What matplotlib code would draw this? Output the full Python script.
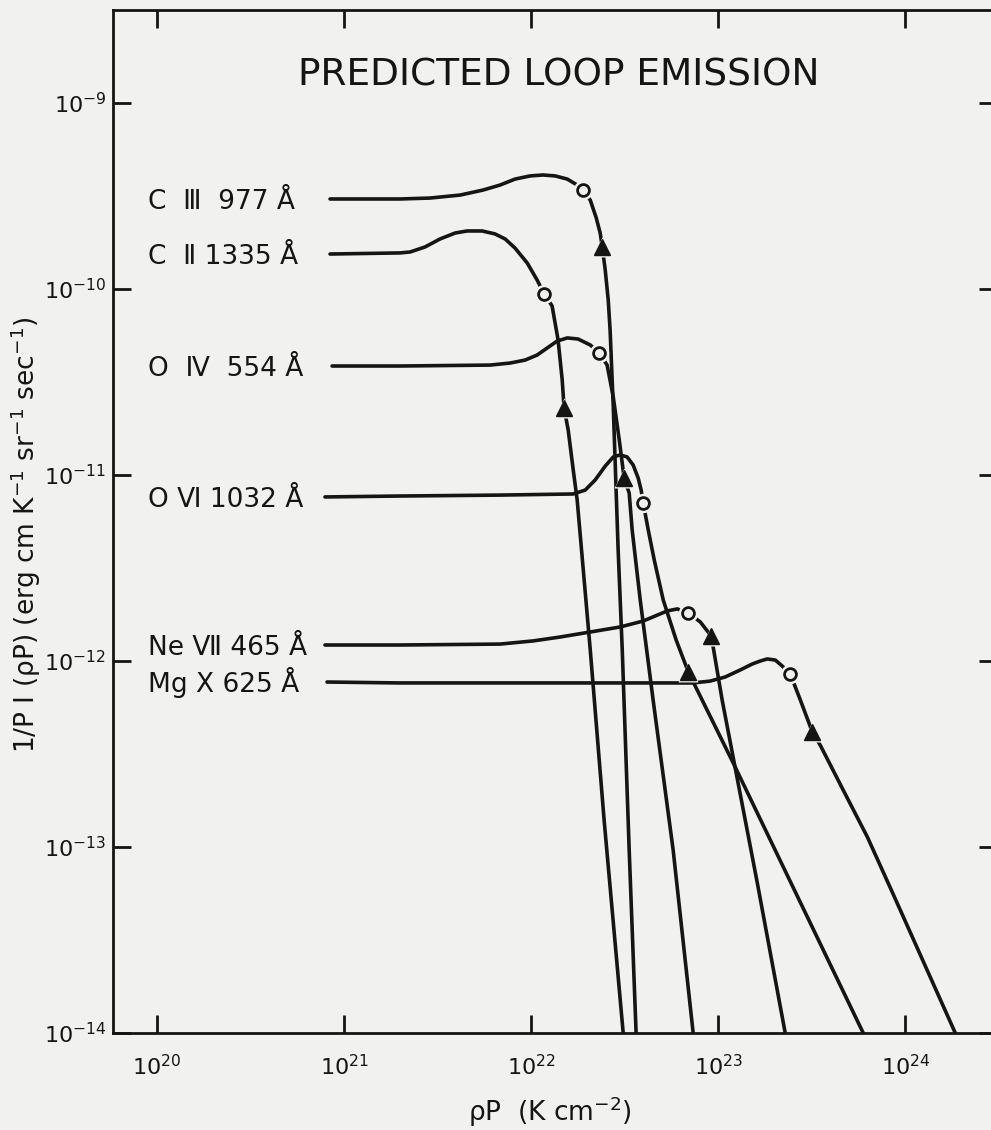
import numpy as np
import matplotlib
matplotlib.use('Agg')
import matplotlib.pyplot as plt

# values, stored as log10(rho P) and log10(I/P)
c3_x = [20.925, 21.30, 21.46, 21.62, 21.743, 21.834, 21.914, 21.995, 22.064, 22.128, 22.193, 22.246, 22.278,
        22.316, 22.348, 22.369, 22.380, 22.396, 22.412, 22.422, 22.439, 22.465, 22.487, 22.524, 22.561]
c3_y = [-9.516, -9.516, -9.511, -9.495, -9.468, -9.441, -9.409, -9.392, -9.387, -9.392, -9.409, -9.441, -9.468,
        -9.522, -9.618, -9.699, -9.774, -9.898, -10.059, -10.220, -10.634, -11.403, -11.941, -13.016, -14.0]

c2_x = [20.925, 21.30, 21.353, 21.433, 21.513, 21.594, 21.658, 21.738, 21.807, 21.861, 21.914, 21.979, 22.032,
        22.070, 22.112, 22.144, 22.166, 22.176, 22.198, 22.225, 22.246, 22.316, 22.390, 22.492]
c2_y = [-9.812, -9.806, -9.801, -9.774, -9.731, -9.699, -9.688, -9.688, -9.704, -9.731, -9.780, -9.860, -9.952,
        -10.027, -10.091, -10.274, -10.489, -10.640, -10.758, -10.973, -11.134, -11.941, -12.855, -14.0]

o4_x = [20.936, 21.30, 21.781, 21.888, 21.968, 22.032, 22.086, 22.139, 22.193, 22.251, 22.316, 22.364,
        22.406, 22.439, 22.471, 22.497, 22.524, 22.540, 22.583, 22.652, 22.759, 22.866]
o4_y = [-10.414, -10.414, -10.409, -10.398, -10.382, -10.355, -10.317, -10.280, -10.263, -10.269, -10.301, -10.344,
        -10.409, -10.581, -10.812, -11.016, -11.097, -11.296, -11.672, -12.210, -13.016, -14.0]

o6_x = [20.898, 21.30, 21.834, 22.225, 22.289, 22.342, 22.396, 22.439, 22.476, 22.513, 22.545, 22.572, 22.588,
        22.599, 22.626, 22.658, 22.706, 22.775, 22.840, 23.080, 23.775]
o6_y = [-11.118, -11.113, -11.108, -11.102, -11.081, -11.027, -10.952, -10.903, -10.892, -10.903, -10.946, -11.016, -11.081,
        -11.151, -11.296, -11.457, -11.672, -11.887, -12.059, -12.548, -14.0]

ne7_x = [20.898, 21.30, 21.834, 22.011, 22.155, 22.316, 22.476, 22.599, 22.663, 22.727, 22.781, 22.840,
         22.904, 22.963, 23.021, 23.209, 23.358]
ne7_y = [-11.914, -11.914, -11.909, -11.892, -11.871, -11.844, -11.817, -11.785, -11.758, -11.731, -11.720, -11.742,
         -11.790, -11.866, -12.210, -13.194, -14.0]

mg10_x = [20.909, 21.30, 21.834, 22.369, 22.866, 22.957, 23.037, 23.118, 23.182, 23.225, 23.262, 23.305, 23.342,
          23.385, 23.439, 23.503, 23.545, 23.668, 23.797, 23.925, 24.267]
mg10_y = [-12.113, -12.118, -12.118, -12.118, -12.118, -12.108, -12.086, -12.048, -12.016, -12.0, -11.989, -11.995, -12.027,
          -12.070, -12.210, -12.382, -12.452, -12.694, -12.946, -13.231, -14.0]

line_names = ['C  Ⅲ  977 Å', 'C  Ⅱ 1335 Å', 'O  Ⅳ  554 Å', 'O Ⅵ 1032 Å', 'Ne Ⅶ 465 Å', 'Mg Ⅹ 625 Å']
# index of the open circle and of the filled triangle on each curve
circle_idx = [12, 13, 11, 13, 11, 13]
triangle_idx = [16, 17, 15, 18, 13, 15]

x_ticks = [1e20, 1e21, 1e22, 1e23, 1e24]
y_ticks = [1e-14, 1e-13, 1e-12, 1e-11, 1e-10, 1e-9]

plt.rcParams['font.family'] = ['DejaVu Sans']
plt.rcParams['mathtext.fontset'] = 'dejavusans'

BG = '#f1f1f0'
INK = '#151515'

fig = plt.figure(figsize=(9.91, 11.30), dpi=100, facecolor=BG)
ax = fig.add_axes([113 / 991, 1 - 1033 / 1130, (997 - 113) / 991, (1033 - 10) / 1130])
ax.set_facecolor(BG)
ax.set_xscale('log')
ax.set_yscale('log')
ax.set_xlim(10 ** 19.765, 10 ** 24.49)
ax.set_ylim(1e-14, 10 ** -8.5)

series = [(c3_x, c3_y), (c2_x, c2_y), (o4_x, o4_y), (o6_x, o6_y), (ne7_x, ne7_y), (mg10_x, mg10_y)]

for (lx, ly), name, ci, ti in zip(series, line_names, circle_idx, triangle_idx):
    x = 10 ** np.array(lx)
    y = 10 ** np.array(ly)
    ax.plot(x, y, color=INK, lw=2.6, solid_capstyle='round', solid_joinstyle='round', zorder=2)
    # small gaps in the curve around the symbols
    ax.plot(x[ci], y[ci], ls='none', marker='o', ms=14, mfc=BG, mec='none', zorder=3)
    ax.plot(x[ti], y[ti], ls='none', marker='^', ms=15, mfc=BG, mec='none', zorder=3)
    ax.plot(x[ci], y[ci], ls='none', marker='o', ms=8.5, mfc=BG, mec=INK, mew=2, zorder=4)
    ax.plot(x[ti], y[ti], ls='none', marker='^', ms=11, color=INK, zorder=4)
    ax.annotate(name, xy=(0.04, y[0]), xycoords=('axes fraction', 'data'),
                xytext=(0, -7), textcoords='offset points',
                ha='left', va='baseline', fontsize=19, color=INK)

ax.set_xticks(x_ticks)
ax.set_yticks(y_ticks)
ax.minorticks_off()
ax.tick_params(which='major', direction='in', length=13, width=2, top=True, right=True,
               labelsize=16, colors=INK)
ax.tick_params(axis='y', pad=5)
ax.tick_params(axis='x', pad=15)
for sp in ax.spines.values():
    sp.set_linewidth(2)
    sp.set_color(INK)

fig.text(559 / 991, 1 - 75 / 1130, 'PREDICTED LOOP EMISSION', ha='center', va='center',
         fontsize=27, color=INK)
fig.text(26 / 991, 1 - 535 / 1130, '1/P I (ρP) (erg cm K$^{-1}$ sr$^{-1}$ sec$^{-1}$)',
         rotation=90, ha='center', va='center', fontsize=19, color=INK)
fig.text(550 / 991, 1 - 1112 / 1130, 'ρP  (K cm$^{-2}$)', ha='center', va='center',
         fontsize=19, color=INK)

fig.savefig('out.png', dpi=100, facecolor=BG)
